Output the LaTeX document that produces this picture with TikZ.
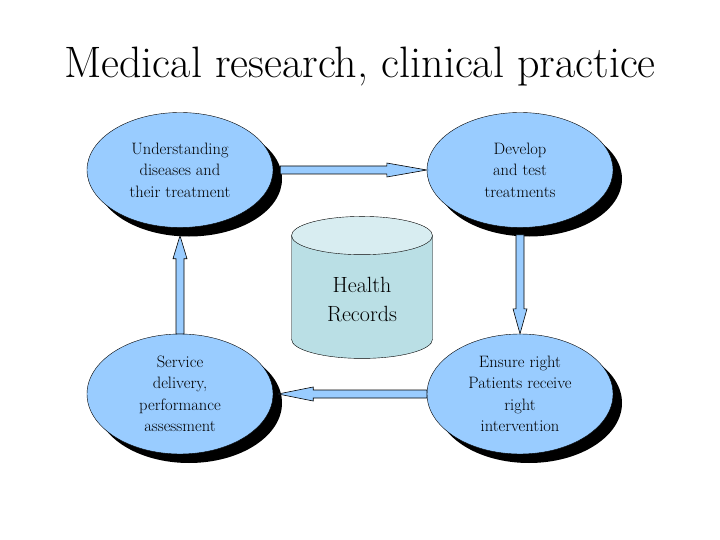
\documentclass[tikz,border=0pt]{standalone}
\usepackage{tikz}
\usetikzlibrary{calc,shapes.geometric,shadows}

\definecolor{ovalblue}{RGB}{153,204,255}
\definecolor{dbbody}{RGB}{186,223,229}
\definecolor{dbtop}{RGB}{216,237,241}

\tikzset{
  stage/.style={ellipse, draw, fill=ovalblue, minimum width=186pt, minimum height=115pt,
    inner sep=0pt, align=center, font=\fontsize{16.5}{21.5}\selectfont,
    drop shadow={shadow xshift=9pt, shadow yshift=-9pt, fill=black, opacity=1}},
  dbase/.style={cylinder, shape border rotate=90, draw, cylinder uses custom fill,
    cylinder body fill=dbbody, cylinder end fill=dbtop, aspect=0.5,
    minimum height=142pt, minimum width=141pt, align=center,
    font=\fontsize{22}{29}\selectfont},
  arrowbody/.style={draw, fill=ovalblue, line width=0.6pt, line join=miter},
}

% block arrow: from, to, head length, head half width
\newcommand\blockarrow[4]{%
  \coordinate (hb) at ($(#2)!#3!(#1)$);
  \draw[arrowbody] ($(#1)!4pt!90:(#2)$) -- ($(hb)!4pt!90:(#2)$) -- ($(hb)!#4!90:(#2)$)
    -- (#2) -- ($(hb)!#4!-90:(#2)$) -- ($(hb)!4pt!-90:(#2)$) -- ($(#1)!4pt!-90:(#2)$) -- cycle;
}

\begin{document}
\begin{tikzpicture}[x=1pt,y=-1pt]
  \useasboundingbox (0,0) rectangle (720,540);
  \node (title) at (360,67) {\fontsize{44}{48}\selectfont Medical research, clinical practice};

  \node[stage] (ul) at (180,170) {Understanding\\diseases and\\their treatment};
  \node[stage] (ur) at (520,170) {Develop\\and test\\treatments};
  \node[stage, minimum height=120pt] (ll) at (180,394) {Service\\delivery,\\performance\\assessment};
  \node[stage, minimum height=120pt] (lr) at (520,394) {Ensure right\\Patients receive\\right\\intervention};

  \node[dbase] (db) at (362,300) {Health\\Records};

  % arrows round the cycle
  \coordinate (a1) at ([xshift=7pt]ul.east);
  \coordinate (a2) at ([yshift=-7pt]ur.south);
  \coordinate (a3) at ([xshift=5pt]ll.east);
  \coordinate (a4) at ([yshift=-8pt]ul.south);
  \blockarrow{a1}{ur.west}{40pt}{7pt}
  \blockarrow{a2}{lr.north}{25pt}{7pt}
  \blockarrow{lr.west}{a3}{35pt}{7pt}
  \blockarrow{ll.north}{a4}{23pt}{7pt}
\end{tikzpicture}
\end{document}
